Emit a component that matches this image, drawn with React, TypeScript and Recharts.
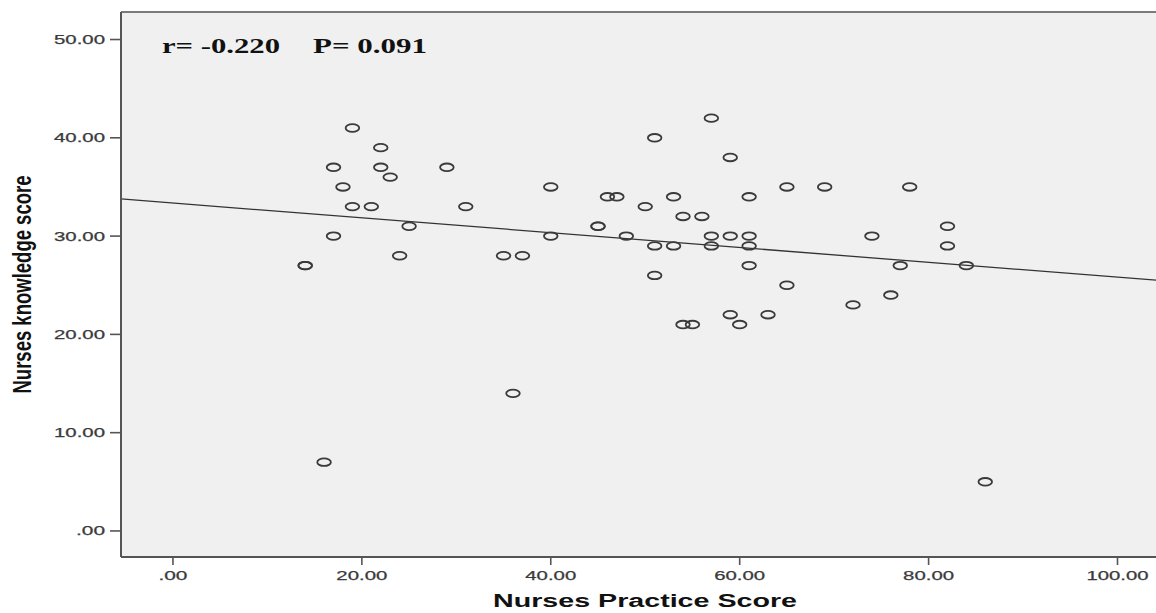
import React from 'react';
import { ScatterChart, Scatter, XAxis, YAxis, CartesianGrid, ReferenceLine, Label } from 'recharts';

// Nurses Practice Score (x) and Nurses knowledge score (y), one entry per nurse
const practiceScores = [
  14, 14, 16, 17, 17, 18, 19, 19, 21, 22,
  22, 23, 24, 25, 29, 31, 35, 36, 37, 40,
  40, 45, 45, 46, 47, 48, 50, 51, 51, 51,
  53, 53, 54, 54, 55, 56, 57, 57, 57, 59,
  59, 59, 60, 61, 61, 61, 61, 63, 65, 65,
  69, 72, 74, 76, 77, 78, 82, 82, 84, 86,
];
const knowledgeScores = [
  27, 27, 7, 37, 30, 35, 41, 33, 33, 39,
  37, 36, 28, 31, 37, 33, 28, 14, 28, 35,
  30, 31, 31, 34, 34, 30, 33, 40, 29, 26,
  34, 29, 32, 21, 21, 32, 42, 30, 29, 38,
  30, 22, 21, 34, 30, 29, 27, 22, 35, 25,
  35, 23, 30, 24, 27, 35, 31, 29, 27, 5,
];
const xTicks = [0, 20, 40, 60, 80, 100];
const yTicks = [0, 10, 20, 30, 40, 50];
const xDomain: [number, number] = [-5.5, 104.5];
const yDomain: [number, number] = [-2.65, 52.8];
const xTitle = 'Nurses Practice Score';
const yTitle = 'Nurses knowledge score';
const rText = 'r= -0.220';
const pText = 'P= 0.091';

const points = practiceScores.map((x, i) => ({ x, y: knowledgeScores[i] }));

// least-squares fit line
const n = points.length;
const mx = practiceScores.reduce((a, b) => a + b, 0) / n;
const my = knowledgeScores.reduce((a, b) => a + b, 0) / n;
let sxy = 0;
let sxx = 0;
for (let i = 0; i < n; i++) {
  sxy += (practiceScores[i] - mx) * (knowledgeScores[i] - my);
  sxx += (practiceScores[i] - mx) ** 2;
}
const slope = sxy / sxx;
const intercept = my - slope * mx;
const fitSegment = [
  { x: xDomain[0], y: intercept + slope * xDomain[0] },
  { x: xDomain[1], y: intercept + slope * xDomain[1] },
];

const fmt = (v: number) => (v === 0 ? '.00' : v.toFixed(2));
const tickLen = (s: string) => s.split('').reduce((a, c) => a + (c === '.' ? 7 : 11), 0);
const sans = '"Liberation Sans", Arial, sans-serif';

const XTick = (props: any) => {
  const { x, y, payload } = props;
  const s = fmt(payload.value);
  return (
    <text x={x} y={y} dy={12.5} textAnchor="middle" fontSize={12.5} fill="#3a3a3a" fontFamily={sans}
      stroke="#3a3a3a" strokeWidth={0.25}
      textLength={tickLen(s)} lengthAdjust="spacingAndGlyphs">{s}</text>
  );
};

const YTick = (props: any) => {
  const { x, y, payload } = props;
  const s = fmt(payload.value);
  return (
    <text x={x - 3} y={y} dy={4.5} textAnchor="end" fontSize={12.5} fill="#3a3a3a" fontFamily={sans}
      stroke="#3a3a3a" strokeWidth={0.25}
      textLength={tickLen(s)} lengthAdjust="spacingAndGlyphs">{s}</text>
  );
};

const Marker = (props: any) => {
  const { cx, cy } = props;
  if (cx == null || cy == null) return null;
  return <ellipse cx={cx} cy={cy} rx={6.8} ry={3.8} fill="none" stroke="#3a3a3a" strokeWidth={1.8} />;
};

export default function App() {
  return (
    <div style={{ position: 'absolute', left: 0, top: 0, width: 1156, height: 613, overflow: 'hidden', background: '#fff' }}>
      <ScatterChart width={1160} height={613} margin={{ top: 12, right: 0, bottom: 0, left: 0 }}>
        <CartesianGrid fill="#f0f0f0" horizontal={false} vertical={false} />
        <XAxis
          type="number"
          dataKey="x"
          domain={xDomain}
          ticks={xTicks}
          allowDataOverflow
          height={56}
          tickSize={8}
          axisLine={{ stroke: '#555', strokeWidth: 2 }}
          tickLine={{ stroke: '#555', strokeWidth: 1.6 }}
          tick={<XTick />}
        >
          <Label
            content={() => (
              <text x={645} y={607} textAnchor="middle" fontSize={18} fontWeight="bold" fill="#111"
                fontFamily={sans} textLength={304} lengthAdjust="spacingAndGlyphs">{xTitle}</text>
            )}
          />
        </XAxis>
        <YAxis
          type="number"
          dataKey="y"
          domain={yDomain}
          ticks={yTicks}
          allowDataOverflow
          width={121}
          tickSize={11}
          axisLine={{ stroke: '#555', strokeWidth: 2 }}
          tickLine={{ stroke: '#555', strokeWidth: 1.6 }}
          tick={<YTick />}
        >
          <Label
            content={() => (
              <text x={31} y={284.5} transform="rotate(-90, 31, 284.5)" textAnchor="middle" fontSize={26}
                fontWeight="bold" fill="#111" fontFamily={sans} textLength={218}
                lengthAdjust="spacingAndGlyphs">{yTitle}</text>
            )}
          />
        </YAxis>
        <ReferenceLine y={yDomain[1]} stroke="#7a7a7a" strokeWidth={2} />
        <ReferenceLine segment={fitSegment} stroke="#333" strokeWidth={1.3} ifOverflow="extendDomain" />
        <Scatter data={points} shape={<Marker />} isAnimationActive={false} />
      </ScatterChart>
      <svg width={1156} height={613} style={{ position: 'absolute', left: 0, top: 0, pointerEvents: 'none' }}>
        <text x={162} y={52.5} fontSize={22} fontWeight="bold" fill="#111" fontFamily='"Liberation Serif", "Times New Roman", serif'
          textLength={118} lengthAdjust="spacingAndGlyphs">{rText}</text>
        <text x={313} y={52.5} fontSize={22} fontWeight="bold" fill="#111" fontFamily='"Liberation Serif", "Times New Roman", serif'
          textLength={114} lengthAdjust="spacingAndGlyphs">{pText}</text>
      </svg>
    </div>
  );
}
